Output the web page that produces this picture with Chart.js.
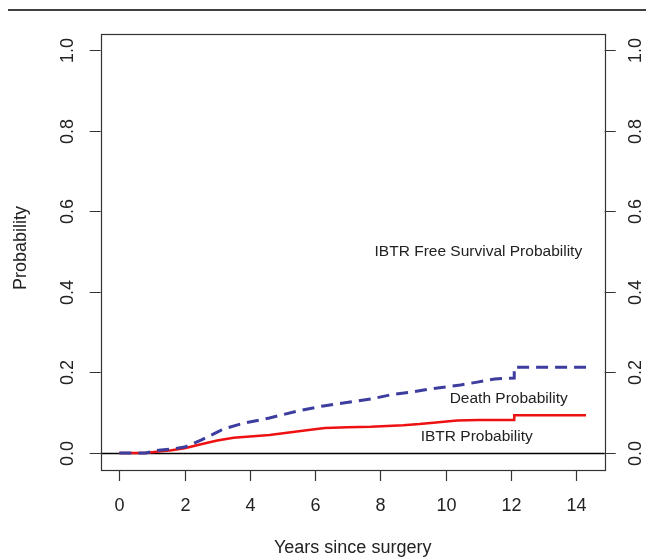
<!DOCTYPE html>
<html>
<head>
<meta charset="utf-8">
<script src="https://cdn.jsdelivr.net/npm/chart.js@4/dist/chart.umd.min.js"></script>
<style>
  html, body { margin: 0; padding: 0; background: #ffffff; }
  #wrap { width: 646px; height: 559px; }
</style>
</head>
<body>
<div id="wrap"><canvas id="c" width="646" height="559"></canvas></div>
<script>
// ---- data ----
const xTicks = [0, 2, 4, 6, 8, 10, 12, 14];
const xTickLabels = ['0', '2', '4', '6', '8', '10', '12', '14'];
const yTicks = [0, 0.2, 0.4, 0.6, 0.8, 1.0];
const yTickLabels = ['0.0', '0.2', '0.4', '0.6', '0.8', '1.0'];

const ibtrYears = [0, 0.8, 1.2, 1.6, 2.0, 2.5, 3.0, 3.5, 4.0, 4.6, 5.2, 5.8, 6.3, 7.0, 7.7, 8.2, 8.7, 9.2, 9.7, 10.35, 11.0, 12.1, 12.1, 14.3];
const ibtrProb  = [0, 0, 0.004, 0.007, 0.012, 0.022, 0.031, 0.038, 0.041, 0.045, 0.051, 0.057, 0.062, 0.064, 0.065, 0.067, 0.069, 0.072, 0.076, 0.081, 0.082, 0.082, 0.094, 0.094];

const deathYears = [0, 0.8, 1.2, 1.6, 2.0, 2.5, 3.0, 3.2, 3.8, 4.6, 5.45, 6.25, 6.86, 7.7, 8.4, 9.0, 9.43, 10.45, 10.97, 11.5, 12.1, 12.1, 14.3];
const deathProb  = [0, 0, 0.007, 0.010, 0.015, 0.032, 0.052, 0.060, 0.074, 0.087, 0.104, 0.117, 0.124, 0.134, 0.146, 0.152, 0.158, 0.169, 0.176, 0.184, 0.186, 0.213, 0.213];

const noteTexts = ['IBTR Free Survival Probability', 'Death Probability', 'IBTR Probability'];
const noteX = [11.0, 11.93, 10.95];
const noteY = [0.5, 0.134, 0.04];

const xTitle = 'Years since surgery';
const yTitle = 'Probability';

// ---- helpers ----
const toPoints = (xs, ys) => xs.map((x, i) => ({ x: x, y: ys[i] }));
const FONT = '"Liberation Sans", Arial, Helvetica, sans-serif';

const rPlot = {
  id: 'rPlot',
  beforeDatasetsDraw(chart) {
    const { ctx, chartArea: a, scales: { y } } = chart;
    ctx.save();
    // abline h = 0
    ctx.strokeStyle = '#000';
    ctx.lineWidth = 1.6;
    const y0 = Math.round(y.getPixelForValue(0)) + 0.5;
    ctx.beginPath();
    ctx.moveTo(a.left, y0);
    ctx.lineTo(a.right, y0);
    ctx.stroke();
    ctx.restore();
  },
  afterDraw(chart) {
    const { ctx, chartArea: a, scales: { x, y } } = chart;
    ctx.save();
    // top rule of the page
    ctx.strokeStyle = '#000';
    ctx.lineWidth = 1.5;
    ctx.beginPath();
    ctx.moveTo(8, 10);
    ctx.lineTo(646, 10);
    ctx.stroke();

    // box
    ctx.strokeStyle = '#333';
    ctx.lineWidth = 1.2;
    ctx.strokeRect(Math.round(a.left) + 0.5, Math.round(a.top) + 0.5,
                   Math.round(a.right - a.left), Math.round(a.bottom - a.top));

    const tickLen = 11;
    ctx.fillStyle = '#222';
    ctx.strokeStyle = '#333';
    ctx.lineWidth = 1.2;

    // x axis ticks + labels
    ctx.font = '18px ' + FONT;
    ctx.textAlign = 'center';
    ctx.textBaseline = 'middle';
    xTicks.forEach((v, i) => {
      const px = Math.round(x.getPixelForValue(v)) + 0.5;
      ctx.beginPath();
      ctx.moveTo(px, a.bottom);
      ctx.lineTo(px, a.bottom + tickLen);
      ctx.stroke();
      ctx.fillText(xTickLabels[i], px, a.bottom + 36);
    });

    // y axis ticks (both sides) + rotated labels
    yTicks.forEach((v, i) => {
      const py = Math.round(y.getPixelForValue(v)) + 0.5;
      ctx.beginPath();
      ctx.moveTo(a.left - tickLen, py);
      ctx.lineTo(a.left, py);
      ctx.moveTo(a.right, py);
      ctx.lineTo(a.right + tickLen, py);
      ctx.stroke();
      [a.left - 33, a.right + 31].forEach(cx => {
        ctx.save();
        ctx.translate(cx, py);
        ctx.rotate(-Math.PI / 2);
        ctx.textAlign = 'center';
        ctx.textBaseline = 'middle';
        ctx.fillText(yTickLabels[i], 0, 0);
        ctx.restore();
      });
    });

    // axis titles
    ctx.textAlign = 'center';
    ctx.textBaseline = 'middle';
    ctx.fillText(xTitle, (a.left + a.right) / 2, 548);
    ctx.save();
    ctx.translate(21, (a.top + a.bottom) / 2 - 4);
    ctx.rotate(-Math.PI / 2);
    ctx.fillText(yTitle, 0, 0);
    ctx.restore();

    // in-plot annotations
    ctx.font = '15.5px ' + FONT;
    noteTexts.forEach((t, i) => {
      ctx.fillText(t, x.getPixelForValue(noteX[i]), y.getPixelForValue(noteY[i]));
    });
    ctx.restore();
  }
};

new Chart(document.getElementById('c'), {
  type: 'line',
  data: {
    datasets: [
      {
        label: 'Death Probability',
        data: toPoints(deathYears, deathProb),
        borderColor: '#3d3d9f',
        borderWidth: 3,
        borderDash: [12, 7],
        pointRadius: 0,
        tension: 0,
        fill: false
      },
      {
        label: 'IBTR Probability',
        data: toPoints(ibtrYears, ibtrProb),
        borderColor: '#ee1111',
        borderWidth: 2.5,
        pointRadius: 0,
        tension: 0,
        fill: false
      }
    ]
  },
  options: {
    responsive: false,
    animation: false,
    layout: { padding: { left: 100.7, right: 41.3, top: 34, bottom: 89 } },
    plugins: { legend: { display: false }, tooltip: { enabled: false } },
    scales: {
      x: { type: 'linear', min: -0.572, max: 14.872, display: false },
      y: { type: 'linear', min: -0.042, max: 1.0397, display: false }
    }
  },
  plugins: [rPlot]
});
</script>
</body>
</html>
